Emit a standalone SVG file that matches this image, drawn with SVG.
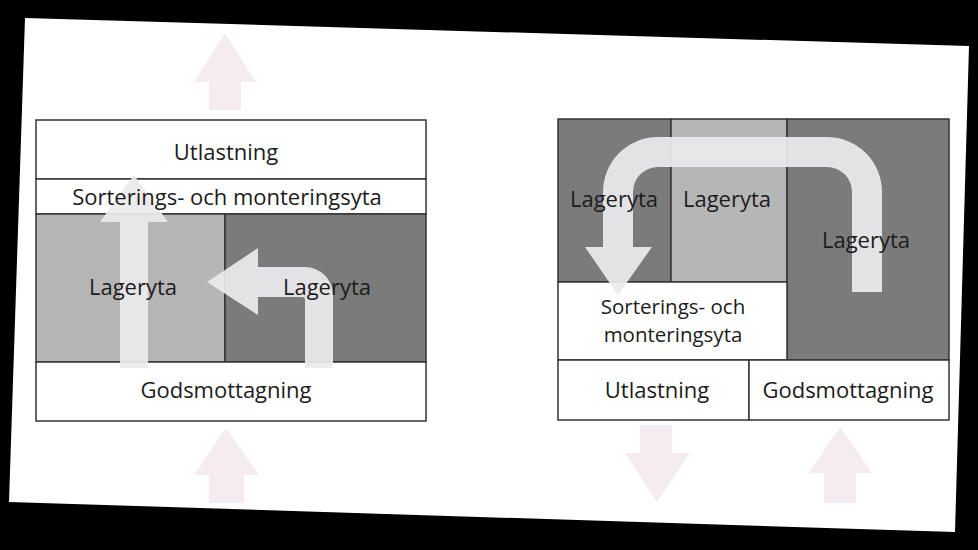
<svg xmlns="http://www.w3.org/2000/svg" width="978" height="550" viewBox="0 0 978 550">
<style>
  .box { stroke: #353535; stroke-width: 1.5; }
  .white { fill: #ffffff; }
  .light { fill: #b6b6b6; }
  .dark { fill: #7b7b7b; }
  .lbl { font-family: "Open Sans", "Noto Sans", sans-serif; font-size: 22px; fill: #1c1c1c; text-anchor: middle; }
  .two { font-size: 20.5px; }
  .flow { fill: #ebe9ed; fill-opacity: 0.93; }
  .ext { fill: #f4ecf0; }
</style>
<rect x="0" y="0" width="978" height="550" fill="#000000"/>
<polygon points="25,18 969,46 955,532 9,502" fill="#ffffff"/>

<!-- Left diagram -->
<g id="left-utlastning">
  <rect class="box white" x="36" y="120" width="390" height="59"/>
</g>
<g id="left-sortering">
  <rect class="box white" x="36" y="179" width="390" height="35"/>
</g>
<g id="left-lager1">
  <rect class="box light" x="36" y="214" width="189" height="148"/>
</g>
<g id="left-lager2">
  <rect class="box dark" x="225" y="214" width="201" height="148"/>
</g>
<g id="left-godsmottagning">
  <rect class="box white" x="36" y="362" width="390" height="59"/>
</g>

<!-- Right diagram -->
<g id="right-lager1">
  <rect class="box dark" x="558" y="119" width="113" height="163"/>
</g>
<g id="right-lager2">
  <rect class="box light" x="671" y="119" width="116" height="163"/>
</g>
<g id="right-lager3">
  <rect class="box dark" x="787" y="119" width="162" height="241"/>
</g>
<g id="right-sortering">
  <rect class="box white" x="558" y="282" width="229" height="78"/>
</g>
<g id="right-utlastning">
  <rect class="box white" x="558" y="360" width="191" height="60"/>
</g>
<g id="right-godsmottagning">
  <rect class="box white" x="749" y="360" width="200" height="60"/>
</g>

<g id="connectors">
  <!-- external flows -->
  <polygon class="ext" points="225,33 256,82 241,82 241,110 209,110 209,82 194,82"/>
  <polygon class="ext" points="226,428 259,475 244,475 244,503 209,503 209,475 194,475"/>
  <polygon class="ext" points="640,425 672,425 672,453 690,453 657,502 625,453 640,453"/>
  <polygon class="ext" points="840,427 872,473 856,473 856,503 824,503 824,473 809,473"/>
  <!-- left internal flows -->
  <polygon class="flow" points="134,175 168,222 148,222 148,368 120,368 120,222 100,222"/>
  <path class="flow" d="M305 368 L305 300 A3 3 0 0 0 302 297 L258 297 L258 315 L207 282 L258 248 L258 267 L305 267 A28 28 0 0 1 333 295 L333 368 Z"/>
  <!-- right internal flow -->
  <path class="flow" d="M852 292 L852 192 A25 25 0 0 0 827 167 L658 167 A25 25 0 0 0 633 192 L633 247 L652 247 L618 295 L585 247 L603 247 L603 192 A55 55 0 0 1 658 137 L827 137 A55 55 0 0 1 882 192 L882 292 Z"/>
</g>

<g id="labels">
  <text id="t-left-utlastning" class="lbl" x="226" y="160">Utlastning</text>
  <text id="t-left-sortering" class="lbl" x="227" y="205">Sorterings- och monteringsyta</text>
  <text id="t-left-lager1" class="lbl" x="133" y="295">Lageryta</text>
  <text id="t-left-lager2" class="lbl" x="327" y="295">Lageryta</text>
  <text id="t-left-godsmottagning" class="lbl" x="226" y="398">Godsmottagning</text>
  <text id="t-right-lager1" class="lbl" x="614" y="207">Lageryta</text>
  <text id="t-right-lager2" class="lbl" x="727" y="207">Lageryta</text>
  <text id="t-right-lager3" class="lbl" x="866" y="248">Lageryta</text>
  <text id="t-right-sortering" class="lbl two" x="673" y="314">Sorterings- och<tspan x="673" dy="28">monteringsyta</tspan></text>
  <text id="t-right-utlastning" class="lbl" x="657" y="398">Utlastning</text>
  <text id="t-right-godsmottagning" class="lbl" x="848" y="398">Godsmottagning</text>
</g>
</svg>
